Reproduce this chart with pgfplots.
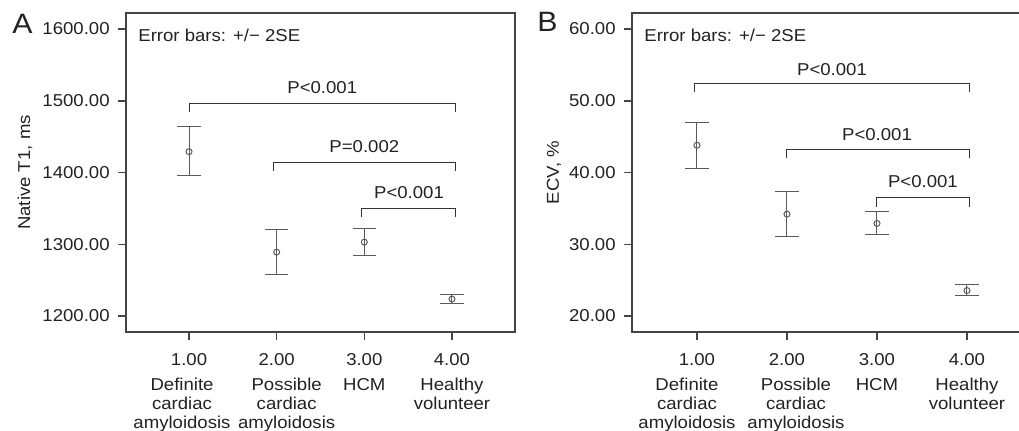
\documentclass[border=0pt]{standalone}
\usepackage{fontspec}
\setmainfont{Liberation Sans}[FakeStretch=1.08]
\usepackage{pgfplots}
\pgfplotsset{compat=1.18}
\definecolor{txt}{HTML}{222222}
\definecolor{axc}{HTML}{444444}
\definecolor{barc}{HTML}{5A5A5A}
\definecolor{brc}{HTML}{333333}
\pgfplotsset{
  panel/.style={
    scale only axis,
    clip=false,
    height=159.5pt,
    anchor=south west,
    font=\fontsize{8.6}{9.5}\selectfont\color{txt},
    axis line style={color=axc, line width=0.75pt},
    tick style={color=axc, line width=0.75pt},
    tick align=outside,
    major tick length=4pt,
    xtick pos=bottom, ytick pos=left,
    xtick={1,2,3,4},
    xticklabel style={anchor=north, inner sep=0pt, yshift=-6.5pt},
    yticklabel style={inner sep=0pt, xshift=-4pt},
    /pgf/number format/.cd, fixed, fixed zerofill, precision=2, 1000 sep={}, assume math mode=true,
  },
  ebars/.style={
    only marks, mark=o, mark size=1.5pt, color=barc,
    mark options={fill=white, line width=0.5pt},
    error bars/.cd, y dir=both, y explicit,
    error bar style={color=barc, line width=0.5pt},
    error mark options={rotate=90, mark size=5.8pt, line width=0.5pt, color=barc},
  },
  bracket/.style={brc, line width=0.5pt, no marks},
}
\tikzset{cat/.style={anchor=north, align=center, inner sep=0pt, font=\fontsize{8.6}{9.5}\selectfont, text=txt}}
\begin{document}
\begin{tikzpicture}
\useasboundingbox (0,0) rectangle (509.5pt,215pt);

% panel A
\begin{axis}[panel, at={(63pt,49pt)}, width=194.5pt,
  xmin=0.281, xmax=4.719, ymin=1177.7, ymax=1622.3,
  ytick={1200,1300,1400,1500,1600},
  every axis y label/.style={at={(axis description cs:0,0.5)}, xshift=-50.5pt, rotate=90, anchor=center},
  ylabel={Native T1, ms}]
\addplot[ebars] coordinates {
  (1,1429) += (0,35) -= (0,33)
  (2,1289) += (0,31) -= (0,31)
  (3,1303) += (0,19) -= (0,19)
  (4,1223.6) += (0,7) -= (0,6.5)
};
\addplot[bracket] coordinates {(1,1484) (1,1496) (4.04,1496) (4.04,1484)};
\addplot[bracket] coordinates {(1.96,1402) (1.96,1414) (4.04,1414) (4.04,1402)};
\addplot[bracket] coordinates {(2.97,1338) (2.97,1350) (4.04,1350) (4.04,1338)};
\node at (axis cs:2.52,1519) {P<0.001};
\node at (axis cs:3.0,1436) {P=0.002};
\node at (axis cs:3.51,1372) {P<0.001};
\node[anchor=west, inner sep=0pt] at ([xshift=6pt, yshift=-11pt]rel axis cs:0,1) {Error bars: +/− 2SE};
\node[cat] at ([xshift=-3.5pt, yshift=-23pt]axis cs:1,1177.7) {Definite\\cardiac\\amyloidosis};
\node[cat] at ([xshift=5pt, yshift=-23pt]axis cs:2,1177.7) {Possible\\cardiac\\amyloidosis};
\node[cat] at ([yshift=-23pt]axis cs:3,1177.7) {HCM};
\node[cat] at ([yshift=-23pt]axis cs:4,1177.7) {Healthy\\volunteer};
\end{axis}

% panel B
\begin{axis}[panel, at={(316pt,49pt)}, width=193.5pt,
  xmin=0.278, xmax=4.578, ymin=17.77, ymax=62.23,
  ytick={20,30,40,50,60},
  axis line style={draw=none},
  every axis y label/.style={at={(axis description cs:0,0.5)}, xshift=-39pt, rotate=90, anchor=center},
  ylabel={ECV, \%}]
\draw[axc, line width=0.75pt] (rel axis cs:1,0) -- (rel axis cs:0,0) -- (rel axis cs:0,1) -- (rel axis cs:1,1);
\addplot[ebars] coordinates {
  (1,43.8) += (0,3.2) -= (0,3.25)
  (2,34.2) += (0,3.15) -= (0,3.05)
  (3,32.9) += (0,1.6) -= (0,1.6)
  (4,23.55) += (0,0.85) -= (0,0.75)
};
\addplot[bracket] coordinates {(0.97,51.25) (0.97,52.45) (4.03,52.45) (4.03,51.25)};
\addplot[bracket] coordinates {(2.0,42.0) (2.0,43.2) (4.03,43.2) (4.03,42.0)};
\addplot[bracket] coordinates {(2.99,35.25) (2.99,36.45) (4.03,36.45) (4.03,35.25)};
\node at (axis cs:2.5,54.3) {P<0.001};
\node at (axis cs:3.0,45.3) {P<0.001};
\node at (axis cs:3.51,38.8) {P<0.001};
\node[anchor=west, inner sep=0pt] at ([xshift=6pt, yshift=-11pt]rel axis cs:0,1) {Error bars: +/− 2SE};
\node[cat] at ([xshift=-5pt, yshift=-23pt]axis cs:1,17.77) {Definite\\cardiac\\amyloidosis};
\node[cat] at ([xshift=4.5pt, yshift=-23pt]axis cs:2,17.77) {Possible\\cardiac\\amyloidosis};
\node[cat] at ([yshift=-23pt]axis cs:3,17.77) {HCM};
\node[cat] at ([yshift=-23pt]axis cs:4,17.77) {Healthy\\volunteer};
\end{axis}

\node[font=\fontsize{14}{16}\selectfont, text=txt, inner sep=0pt] at (11.25pt,203.3pt) {A};
\node[font=\fontsize{14}{16}\selectfont, text=txt, inner sep=0pt] at (273.75pt,203.9pt) {B};
\end{tikzpicture}
\end{document}
